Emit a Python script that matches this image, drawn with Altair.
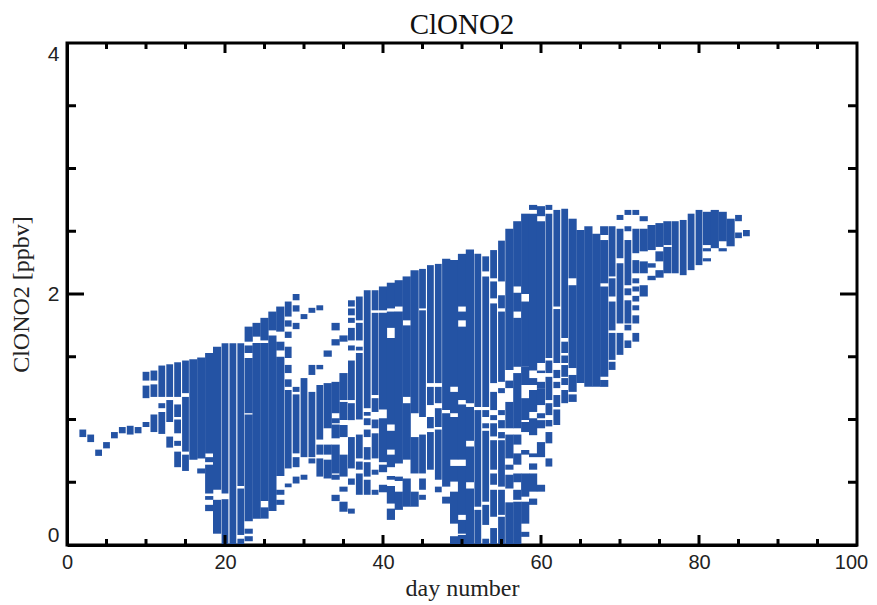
import altair as alt
import pandas as pd

BLUE = "#2453a4"

seg_a = {
2: [(.86,.92)], 3: [(.82,.88)], 4: [(.71,.76)], 5: [(.77,.82)], 6: [(.85,.90)], 7: [(.89,.94)], 8: [(.88,.95)], 9: [(.89,.94)],
10: [(1.31,1.38),(1.17,1.27),(.94,.98)],
11: [(1.31,1.39),(1.18,1.28),(.90,1.04)],
12: [(1.18,1.43),(1.09,1.13),(.885,1.06)],
13: [(1.18,1.44),(.98,1.155),(.776,.864)],
14: [(1.18,1.456),(1.02,1.12),(.89,1.0),(.79,.83),(.62,.744)],
15: [(1.21,1.47),(.744,1.18),(.59,.72)],
16: [(.68,1.48)],
17: [(.69,1.495),(.57,.61)],
18: [(.73,1.53),(.66,.70),(.41,.64),(.36,.39),(.27,.32)],
19: [(.44,1.58),(.09,.36)],
20: [(.41,1.607),(0,.365)],
21: [(0,1.607)],
22: [(.47,1.607),(.08,.45),(0,.05)],
23: [(1.62,1.74),(1.53,1.59),(1.05,1.49),(.19,1.04),(.09,.13),(.03,.07)],
24: [(1.66,1.77),(.21,1.61)],
25: [(1.63,1.81),(.35,1.61),(.21,.30)],
26: [(1.71,1.86),(.27,1.67)],
27: [(1.70,1.90),(1.55,1.62),(.55,1.50),(.40,.44),(.32,.36)],
28: [(1.82,1.94),(1.74,1.79),(1.65,1.70),(1.49,1.58),(1.37,1.435),(1.26,1.32),(.61,1.235),(.46,.49)],
29: [(1.95,2.0),(1.86,1.91),(1.72,1.77),(1.22,1.26),(.73,1.20),(.62,.70),(.49,.545)],
30: [(1.80,1.84),(.70,1.33),(.52,.56)],
31: [(1.85,1.89),(1.355,1.435),(.70,1.22),(.65,.69)],
32: [(1.87,1.91),(1.40,1.435),(.84,1.275),(.72,.80),(.545,.69)],
}

seg_b = {
33: [(1.50,1.55),(.93,1.29),(.72,.80),(.53,.68)],
34: [(1.71,1.77),(1.59,1.64),(1.05,1.30),(.97,1.01),(.85,.96),(.57,.80),(.52,.56),(.35,.40)],
35: [(1.62,1.67),(1.155,1.37),(.996,1.14),(.86,.956),(.545,.72),(.425,.465),(.265,.345)],
36: [(1.90,1.95),(1.83,1.885),(1.77,1.81),(1.63,1.73),(1.55,1.59),(1.155,1.47),(.995,1.13),(.61,.86),(.48,.53),(.25,.29)],
37: [(1.79,1.98),(1.63,1.77),(1.55,1.58),(1.0,1.53),(.69,.88),(.60,.665),(.40,.57)],
38: [(1.09,2.03),(1.03,1.06),(.955,1.01),(.86,.92),(.68,.78),(.545,.66),(.40,.52)],
39: [(1.87,2.03),(1.195,1.85),(1.06,1.17),(.93,1.0),(.69,.89),(.56,.60),(.40,.44)],
40: [(1.87,2.06),(1.08,1.85),(.66,1.01),(.58,.64),(.42,.48)],
41: [(1.885,2.09),(1.73,1.86),(.96,1.65),(.76,.91),(.62,.72),(.52,.55),(.33,.47),(.20,.29)],
42: [(1.90,2.11),(.65,1.86),(.51,.545),(.28,.425)],
43: [(1.79,2.14),(1.18,1.75),(.68,1.13),(.305,.53)],
44: [(1.05,2.19),(.57,.86),(.305,.425)],
45: [(1.885,2.20),(1.02,1.87),(.57,.88),(.44,.53),(.36,.40)],
46: [(1.29,2.23),(1.115,1.26),(.93,1.02),(.60,.90)],
47: [(1.29,2.24),(1.13,1.26),(.94,1.09),(.52,.92),(.42,.465)],
48: [(1.075,2.28),(.465,1.05),(.33,.385)],
49: [(1.26,2.27),(1.05,1.22),(.68,1.02),(.505,.63),(.17,.425),(0,.07)],
50: [(1.90,2.32),(1.79,1.86),(1.155,1.74),(.68,1.12),(.24,.63),(.09,.20),(0,.08)],
51: [(1.13,2.355),(.83,1.10),(.50,.785),(0,.45)],
52: [(1.10,2.32),(.305,1.075),(0,.28)],
53: [(2.18,2.30),(1.10,2.14),(1.02,1.075),(.93,.97),(.345,.91),(.16,.32),(0,.05)],
54: [(2.125,2.35),(1.965,2.10),(1.29,1.925),(1.075,1.22),(.995,1.035),(.865,.97),(.60,.835),(.48,.57),(.225,.44),(0,.135)],
55: [(2.10,2.425),(1.886,1.99),(1.30,1.86),(1.21,1.25),(1.035,1.075),(.93,.995),(.85,.90),(.465,.835),(.24,.44),(0,.225)],
56: [(1.395,2.52),(1.25,1.31),(.93,1.14),(.69,.88),(.60,.64),(.45,.56),(0,.34)],
57: [(2.06,2.58),(1.86,2.01),(1.42,1.81),(.93,1.37),(.80,.88),(.64,.73),(.50,.57),(.36,.44),(0,.345)],
58: [(2.0,2.64),(1.42,1.94),(1.275,1.42),(.996,1.17),(.90,.98),(.72,.757),(.385,.57),(.17,.345),(.065,.105)],
59: [(2.67,2.71),(1.39,2.64),(1.275,1.33),(1.06,1.235),(.875,1.01),(.70,.73),(.60,.65),(.425,.57),(.32,.37)],
}

seg_c = {
60: [(2.62,2.70),(1.45,2.58),(1.37,1.39),(1.25,1.30),(1.115,1.25),(1.01,1.05),(.93,.995),(.70,.82),(.425,.48)],
61: [(2.67,2.71),(1.49,2.64),(1.37,1.47),(1.155,1.34),(1.035,1.13),(.945,.996),(.81,.90),(.625,.69)],
62: [(1.90,2.67),(1.45,1.88),(1.33,1.395),(1.25,1.30),(1.10,1.195),(.956,1.08)],
63: [(1.65,2.68),(1.53,1.62),(1.45,1.51),(1.34,1.434),(1.275,1.33),(1.13,1.235)],
64: [(2.125,2.60),(1.41,2.07),(1.22,1.355),(1.14,1.20)],
65: [(1.29,2.51)],
66: [(1.26,2.54)],
67: [(1.26,2.48)],
68: [(2.47,2.54),(2.085,2.43),(1.34,2.06),(1.26,1.315)],
69: [(2.14,2.54),(1.98,2.125),(1.71,1.94),(1.475,1.69),(1.395,1.46)],
70: [(2.59,2.63),(2.285,2.52),(1.765,2.245),(1.515,1.69)],
71: [(2.63,2.67),(2.50,2.54),(2.07,2.43),(1.99,2.045),(1.765,1.95),(1.71,1.755),(1.57,1.63)],
72: [(2.63,2.67),(2.325,2.52),(2.165,2.27),(2.085,2.125),(2.02,2.06),(1.94,1.985),(1.87,1.91),(1.765,1.83),(1.62,1.69)],
73: [(2.58,2.62),(2.34,2.52),(2.165,2.26),(1.98,2.07)],
74: [(2.35,2.55),(2.21,2.245),(2.11,2.145)],
75: [(2.375,2.565),(2.26,2.34),(2.13,2.19)],
76: [(2.39,2.58),(2.165,2.375)],
77: [(2.165,2.58)],
78: [(2.15,2.59)],
79: [(2.19,2.64)],
80: [(2.23,2.67)],
81: [(2.39,2.655),(2.34,2.365),(2.26,2.285)],
82: [(2.365,2.67)],
83: [(2.42,2.655),(2.34,2.365)],
84: [(2.38,2.60)],
85: [(2.58,2.63),(2.445,2.49)],
86: [(2.46,2.51)],
}

merged_days = [16,17,18,19,23,24,25,26,27,33,34,35,40,41,42,43,44,48,49,50,51,
               56,57,58,59,60,64,65,66,67,68,73,74,75,76,81,82,83,84]

x_labels = [0, 20, 40, 60, 80, 100]
y_labels = [0, 2, 4]
x_minor = [5,10,15,25,30,35,45,50,55,65,70,75,85,90,95]
x_major = [20,40,60,80]
y_minor = [0.5,1,1.5,2.5,3,3.5]
y_major = [2]

rows = []
for block in (seg_a, seg_b, seg_c):
    for day, spans in block.items():
        for lo, hi in spans:
            rows.append({"day": day, "lo": lo, "hi": hi, "merged": day in merged_days})
df = pd.DataFrame(rows)

W, H = 790, 502
FONT = "Liberation Serif"

x_scale = alt.Scale(domain=[0, 100], nice=False, zero=False)
y_scale = alt.Scale(domain=[0, 4], nice=False, zero=False)

x_axis = alt.Axis(values=x_labels, format="d", tickSize=0, grid=False, domain=True, domainWidth=3,
                  domainColor="black", labelFontSize=20, labelFont="Liberation Sans", labelColor="#222222",
                  labelOffset=alt.expr("datum.value == 100 ? -6 : 0"),
                  labelPadding=7, labelFlush=False, labelBound=False, labelOverlap=False, title="day number", titleFont=FONT,
                  titleFontSize=24, titleFontWeight="normal", titleColor="#222222", titlePadding=4, zindex=1)
y_axis = alt.Axis(values=y_labels, format="d", tickSize=0, grid=False, domain=True, domainWidth=3,
                  domainColor="black", labelFontSize=21, labelFont="Liberation Sans", labelColor="#222222",
                  labelPadding=8, labelFlush=True, labelOverlap=False, title="ClONO2 [ppbv]", titleFont=FONT,
                  titleFontSize=24, titleFontWeight="normal", titleColor="#222222", titlePadding=14, zindex=1)

base = alt.Chart(df)
narrow = base.transform_filter("!datum.merged").mark_rule(color=BLUE, strokeWidth=6.8, strokeCap="butt").encode(
    x=alt.X("day:Q", scale=x_scale, axis=x_axis),
    y=alt.Y("lo:Q", scale=y_scale, axis=y_axis),
    y2="hi:Q",
)
wide = base.transform_filter("datum.merged").mark_rule(color=BLUE, strokeWidth=8.2, strokeCap="butt").encode(
    x=alt.X("day:Q", scale=x_scale, axis=x_axis),
    y=alt.Y("lo:Q", scale=y_scale, axis=y_axis),
    y2="hi:Q",
)

def xticks(vals, size):
    d = alt.Data(values=[{"t": v} for v in vals])
    enc = dict(x=alt.X("t:Q", scale=x_scale, axis=x_axis))
    bottom = alt.Chart(d).mark_rule(color="black", strokeWidth=3).encode(y=alt.value(H), y2=alt.value(H - size), **enc)
    top = alt.Chart(d).mark_rule(color="black", strokeWidth=3).encode(y=alt.value(0), y2=alt.value(size), **enc)
    return bottom + top

def yticks(vals, size):
    d = alt.Data(values=[{"t": v} for v in vals])
    enc = dict(y=alt.Y("t:Q", scale=y_scale, axis=y_axis))
    left = alt.Chart(d).mark_rule(color="black", strokeWidth=3).encode(x=alt.value(0), x2=alt.value(size), **enc)
    right = alt.Chart(d).mark_rule(color="black", strokeWidth=3).encode(x=alt.value(W), x2=alt.value(W - size), **enc)
    return left + right

chart = (
    alt.layer(narrow, wide, xticks(x_minor, 6), xticks(x_major, 10), yticks(y_minor, 9), yticks(y_major, 17))
    .properties(
        width=W, height=H,
        title=alt.TitleParams("ClONO2", font=FONT, fontSize=29, fontWeight="normal", color="#111111", offset=2),
        autosize=alt.AutoSizeParams(type="none"),
        padding={"left": 59, "top": 35, "right": 12, "bottom": 58},
    )
    .configure_view(stroke="black", strokeWidth=3)
)

chart.save("out.html", embed_options={"renderer": "svg", "actions": False})
